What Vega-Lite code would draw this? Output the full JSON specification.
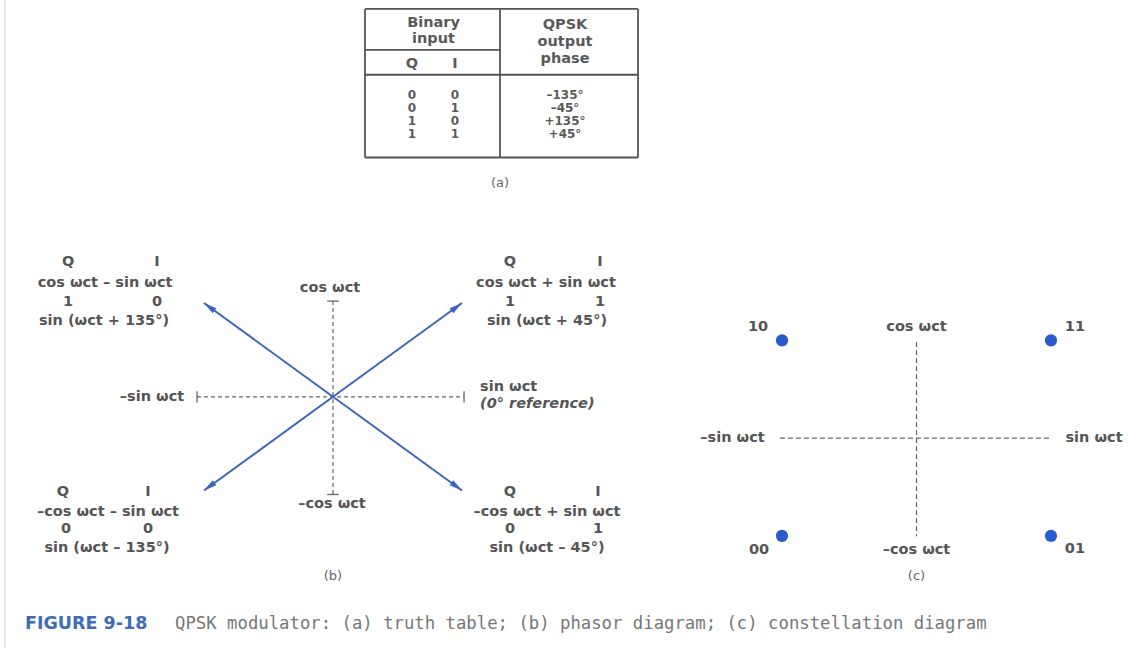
{
  "$schema": "https://vega.github.io/schema/vega-lite/v6.json",
  "width": 1133,
  "height": 648,
  "autosize": {"type": "fit", "contains": "padding"},
  "padding": 0,
  "background": "white",
  "config": {"view": {"stroke": null}, "text": {"font": "DejaVu Sans"}},
  "datasets": {
    "table_frame": [
      {"x": -1.093, "y": -6.565, "x2": 5.256, "y2": -6.565},
      {"x": -1.093, "y": 4.809, "x2": 5.256, "y2": 4.809},
      {"x": -1.093, "y": -6.565, "x2": -1.093, "y2": 4.809},
      {"x": 5.256, "y": -6.565, "x2": 5.256, "y2": 4.809},
      {"x": 2.047, "y": -6.565, "x2": 2.047, "y2": 4.809},
      {"x": -1.093, "y": -1.527, "x2": 5.256, "y2": -1.527},
      {"x": -1.093, "y": -3.435, "x2": 2.047, "y2": -3.435}
    ],
    "table_header": [
      {"x": 0.5, "y": -5.496, "text": "Binary"},
      {"x": 0.5, "y": -4.275, "text": "input"},
      {"x": 0, "y": -2.366, "text": "Q"},
      {"x": 1, "y": -2.366, "text": "I"},
      {"x": 3.558, "y": -5.344, "text": "QPSK"},
      {"x": 3.558, "y": -4.008, "text": "output"},
      {"x": 3.558, "y": -2.71, "text": "phase"}
    ],
    "table_caption": [
      {"x": 2.047, "y": 6.794, "text": "(a)"}
    ],
    "truth_table": [
      {"row": 0, "Q": "0", "I": "0", "phase": "–135°"},
      {"row": 1, "Q": "0", "I": "1", "phase": "–45°"},
      {"row": 2, "Q": "1", "I": "0", "phase": "+135°"},
      {"row": 3, "Q": "1", "I": "1", "phase": "+45°"}
    ],
    "phasor_axes": [
      {"x": -1.054, "y": 0, "x2": 1.016, "y2": 0},
      {"x": 0, "y": 1.021, "x2": 0, "y2": -1.043}
    ],
    "phasor_caps": [
      {"x": -1.054, "y": 0.06, "x2": -1.054, "y2": -0.06},
      {"x": 1.016, "y": 0.06, "x2": 1.016, "y2": -0.06},
      {"x": -0.045, "y": 1.021, "x2": 0.045, "y2": 1.021},
      {"x": -0.045, "y": -1.043, "x2": 0.045, "y2": -1.043}
    ],
    "phasors": [
      {"Q": 1, "I": 0, "phase": 135, "x": -1, "y": 1},
      {"Q": 1, "I": 1, "phase": 45, "x": 1, "y": 1},
      {"Q": 0, "I": 0, "phase": -135, "x": -1, "y": -1},
      {"Q": 0, "I": 1, "phase": -45, "x": 1, "y": -1}
    ],
    "phasor_labels": [
      {"x": -2.054, "y": 1.436, "text": "Q"},
      {"x": -1.364, "y": 1.436, "text": "I"},
      {"x": -1.767, "y": 1.213, "text": "cos ωct – sin ωct"},
      {"x": -2.054, "y": 1.011, "text": "1"},
      {"x": -1.364, "y": 1.011, "text": "0"},
      {"x": -1.775, "y": 0.809, "text": "sin (ωct + 135°)"},
      {"x": 1.372, "y": 1.436, "text": "Q"},
      {"x": 2.07, "y": 1.436, "text": "I"},
      {"x": 1.651, "y": 1.213, "text": "cos ωct + sin ωct"},
      {"x": 1.372, "y": 1.011, "text": "1"},
      {"x": 2.07, "y": 1.011, "text": "1"},
      {"x": 1.659, "y": 0.809, "text": "sin (ωct + 45°)"},
      {"x": -2.093, "y": -1.011, "text": "Q"},
      {"x": -1.434, "y": -1.011, "text": "I"},
      {"x": -1.744, "y": -1.234, "text": "–cos ωct – sin ωct"},
      {"x": -2.07, "y": -1.415, "text": "0"},
      {"x": -1.434, "y": -1.415, "text": "0"},
      {"x": -1.752, "y": -1.617, "text": "sin (ωct – 135°)"},
      {"x": 1.372, "y": -1.011, "text": "Q"},
      {"x": 2.054, "y": -1.011, "text": "I"},
      {"x": 1.659, "y": -1.234, "text": "–cos ωct + sin ωct"},
      {"x": 1.372, "y": -1.415, "text": "0"},
      {"x": 2.054, "y": -1.415, "text": "1"},
      {"x": 1.659, "y": -1.617, "text": "sin (ωct – 45°)"},
      {"x": -0.023, "y": 1.16, "text": "cos ωct"},
      {"x": -0.008, "y": -1.149, "text": "–cos ωct"},
      {"x": -1.403, "y": 0, "text": "–sin ωct"}
    ],
    "phasor_ref_label": [
      {"x": 1.14, "y": 0.106, "text": "sin ωct"}
    ],
    "phasor_ref_note": [
      {"x": 1.14, "y": -0.074, "text": "(0° reference)"}
    ],
    "phasor_caption": [
      {"x": 0, "y": -1.915, "text": "(b)"}
    ],
    "constellation_axes": [
      {"x": -1.015, "y": 0, "x2": 1.007, "y2": 0},
      {"x": 0, "y": 0.985, "x2": 0, "y2": -1.005}
    ],
    "constellation_points": [
      {"symbol": "10", "x": -1, "y": 1},
      {"symbol": "11", "x": 1, "y": 1},
      {"symbol": "00", "x": -1, "y": -1},
      {"symbol": "01", "x": 1, "y": -1}
    ],
    "constellation_labels": [
      {"x": -1.178, "y": 1.138, "text": "10"},
      {"x": 1.178, "y": 1.138, "text": "11"},
      {"x": -1.171, "y": -1.148, "text": "00"},
      {"x": 1.178, "y": -1.138, "text": "01"},
      {"x": 0, "y": 1.138, "text": "cos ωct"},
      {"x": 0, "y": -1.148, "text": "–cos ωct"},
      {"x": -1.368, "y": 0, "text": "–sin ωct"},
      {"x": 1.32, "y": 0, "text": "sin ωct"}
    ],
    "constellation_caption": [
      {"x": 0, "y": -1.413, "text": "(c)"}
    ],
    "figure_number": [
      {"x": 0.0221, "y": 0.0355, "text": "FIGURE 9-18"}
    ],
    "figure_caption": [
      {"x": 0.1545, "y": 0.0355, "text": "QPSK modulator: (a) truth table; (b) phasor diagram; (c) constellation diagram"}
    ],
    "page_edge": [
      {"x": 0.0044, "y": 0, "y2": 1}
    ]
  },
  "layer": [
    {
      "layer": [
        {
          "data": {"name": "table_frame"},
          "mark": {"type": "rule", "color": "#555555", "strokeWidth": 1.8},
          "encoding": {
            "x": {"field": "x", "type": "quantitative", "axis": null, "scale": {"domain": [-9.5814, 16.7674], "nice": false, "zero": false}},
            "y": {"field": "y", "type": "quantitative", "axis": null, "scale": {"domain": [-7.1756, 42.2901], "reverse": true, "nice": false, "zero": false}},
            "x2": {"field": "x2"}, "y2": {"field": "y2"}
          }
        },
        {
          "data": {"name": "table_header"},
          "mark": {"type": "text", "fontSize": 14.5, "fontWeight": "bold", "color": "#5a5a5a", "baseline": "middle", "align": "center"},
          "encoding": {
            "x": {"field": "x", "type": "quantitative", "axis": null, "scale": {"domain": [-9.5814, 16.7674], "nice": false, "zero": false}},
            "y": {"field": "y", "type": "quantitative", "axis": null, "scale": {"domain": [-7.1756, 42.2901], "reverse": true, "nice": false, "zero": false}},
            "text": {"field": "text"}
          }
        },
        {
          "data": {"name": "table_caption"},
          "mark": {"type": "text", "fontSize": 13, "color": "#666666", "baseline": "middle", "align": "center"},
          "encoding": {
            "x": {"field": "x", "type": "quantitative", "axis": null, "scale": {"domain": [-9.5814, 16.7674], "nice": false, "zero": false}},
            "y": {"field": "y", "type": "quantitative", "axis": null, "scale": {"domain": [-7.1756, 42.2901], "reverse": true, "nice": false, "zero": false}},
            "text": {"field": "text"}
          }
        },
        {
          "data": {"name": "truth_table"},
          "mark": {"type": "text", "fontSize": 12, "fontWeight": "bold", "color": "#5a5a5a", "baseline": "middle", "align": "center"},
          "encoding": {
            "x": {"datum": 0, "type": "quantitative", "axis": null, "scale": {"domain": [-9.5814, 16.7674], "nice": false, "zero": false}},
            "y": {"field": "row", "type": "quantitative", "axis": null, "scale": {"domain": [-7.1756, 42.2901], "reverse": true, "nice": false, "zero": false}},
            "text": {"field": "Q"}
          }
        },
        {
          "data": {"name": "truth_table"},
          "mark": {"type": "text", "fontSize": 12, "fontWeight": "bold", "color": "#5a5a5a", "baseline": "middle", "align": "center"},
          "encoding": {
            "x": {"datum": 1, "type": "quantitative", "axis": null, "scale": {"domain": [-9.5814, 16.7674], "nice": false, "zero": false}},
            "y": {"field": "row", "type": "quantitative", "axis": null, "scale": {"domain": [-7.1756, 42.2901], "reverse": true, "nice": false, "zero": false}},
            "text": {"field": "I"}
          }
        },
        {
          "data": {"name": "truth_table"},
          "mark": {"type": "text", "fontSize": 12, "fontWeight": "bold", "color": "#5a5a5a", "baseline": "middle", "align": "center"},
          "encoding": {
            "x": {"datum": 3.558, "type": "quantitative", "axis": null, "scale": {"domain": [-9.5814, 16.7674], "nice": false, "zero": false}},
            "y": {"field": "row", "type": "quantitative", "axis": null, "scale": {"domain": [-7.1756, 42.2901], "reverse": true, "nice": false, "zero": false}},
            "text": {"field": "phase"}
          }
        }
      ]
    },
    {
      "encoding": {
        "x": {"field": "x", "type": "quantitative", "axis": null, "scale": {"domain": [-2.5814, 6.2016], "nice": false, "zero": false}},
        "y": {"field": "y", "type": "quantitative", "axis": null, "scale": {"domain": [-2.6702, 4.2234], "nice": false, "zero": false}}
      },
      "layer": [
        {
          "data": {"name": "phasor_axes"},
          "mark": {"type": "rule", "color": "#666666", "strokeWidth": 1.2, "strokeDash": [4, 3]},
          "encoding": {"x2": {"field": "x2"}, "y2": {"field": "y2"}}
        },
        {
          "data": {"name": "phasor_caps"},
          "mark": {"type": "rule", "color": "#666666", "strokeWidth": 1.3},
          "encoding": {"x2": {"field": "x2"}, "y2": {"field": "y2"}}
        },
        {
          "data": {"name": "phasors"},
          "mark": {"type": "rule", "color": "#3d64b8", "strokeWidth": 2},
          "encoding": {"x2": {"datum": 0}, "y2": {"datum": 0}}
        },
        {
          "data": {"name": "phasors"},
          "transform": [{"calculate": "datum.x > 0 ? (datum.y > 0 ? 54 : 126) : (datum.y > 0 ? 306 : 234)", "as": "heading"}],
          "mark": {"type": "point", "shape": "M0,0L0.24,1L-0.24,1Z", "filled": true, "opacity": 1, "size": 676, "color": "#3d64b8"},
          "encoding": {"angle": {"field": "heading", "type": "quantitative", "scale": null}}
        },
        {
          "data": {"name": "phasor_labels"},
          "mark": {"type": "text", "fontSize": 14.5, "fontWeight": "bold", "color": "#555555", "baseline": "middle", "align": "center"},
          "encoding": {"text": {"field": "text"}}
        },
        {
          "data": {"name": "phasor_ref_label"},
          "mark": {"type": "text", "fontSize": 14.5, "fontWeight": "bold", "color": "#555555", "baseline": "middle", "align": "left"},
          "encoding": {"text": {"field": "text"}}
        },
        {
          "data": {"name": "phasor_ref_note"},
          "mark": {"type": "text", "fontSize": 14.5, "fontWeight": "bold", "fontStyle": "italic", "color": "#555555", "baseline": "middle", "align": "left"},
          "encoding": {"text": {"field": "text"}}
        },
        {
          "data": {"name": "phasor_caption"},
          "mark": {"type": "text", "fontSize": 13, "color": "#666666", "baseline": "middle", "align": "center"},
          "encoding": {"text": {"field": "text"}}
        }
      ]
    },
    {
      "encoding": {
        "x": {"field": "x", "type": "quantitative", "axis": null, "scale": {"domain": [-6.8141, 1.6097], "nice": false, "zero": false}},
        "y": {"field": "y", "type": "quantitative", "axis": null, "scale": {"domain": [-2.1378, 4.4745], "nice": false, "zero": false}}
      },
      "layer": [
        {
          "data": {"name": "constellation_axes"},
          "mark": {"type": "rule", "color": "#666666", "strokeWidth": 1.2, "strokeDash": [5, 3]},
          "encoding": {"x2": {"field": "x2"}, "y2": {"field": "y2"}}
        },
        {
          "data": {"name": "constellation_points"},
          "mark": {"type": "point", "shape": "circle", "filled": true, "opacity": 1, "size": 150, "color": "#2a5bcc"}
        },
        {
          "data": {"name": "constellation_labels"},
          "mark": {"type": "text", "fontSize": 14.5, "fontWeight": "bold", "color": "#555555", "baseline": "middle", "align": "center"},
          "encoding": {"text": {"field": "text"}}
        },
        {
          "data": {"name": "constellation_caption"},
          "mark": {"type": "text", "fontSize": 13, "color": "#666666", "baseline": "middle", "align": "center"},
          "encoding": {"text": {"field": "text"}}
        }
      ]
    },
    {
      "encoding": {
        "x": {"field": "x", "type": "quantitative", "axis": null, "scale": {"domain": [0, 1], "nice": false, "zero": false}},
        "y": {"field": "y", "type": "quantitative", "axis": null, "scale": {"domain": [0, 1], "nice": false, "zero": false}}
      },
      "layer": [
        {
          "data": {"name": "page_edge"},
          "mark": {"type": "rule", "color": "#dddddd", "strokeWidth": 1.5},
          "encoding": {"y2": {"field": "y2"}}
        },
        {
          "data": {"name": "figure_number"},
          "mark": {"type": "text", "fontSize": 17.5, "fontWeight": "bold", "color": "#3d6db5", "baseline": "middle", "align": "left"},
          "encoding": {"text": {"field": "text"}}
        },
        {
          "data": {"name": "figure_caption"},
          "mark": {"type": "text", "font": "DejaVu Sans Mono", "fontSize": 17.3, "color": "#777777", "baseline": "middle", "align": "left"},
          "encoding": {"text": {"field": "text"}}
        }
      ]
    }
  ],
  "resolve": {"scale": {"x": "independent", "y": "independent"}}
}
